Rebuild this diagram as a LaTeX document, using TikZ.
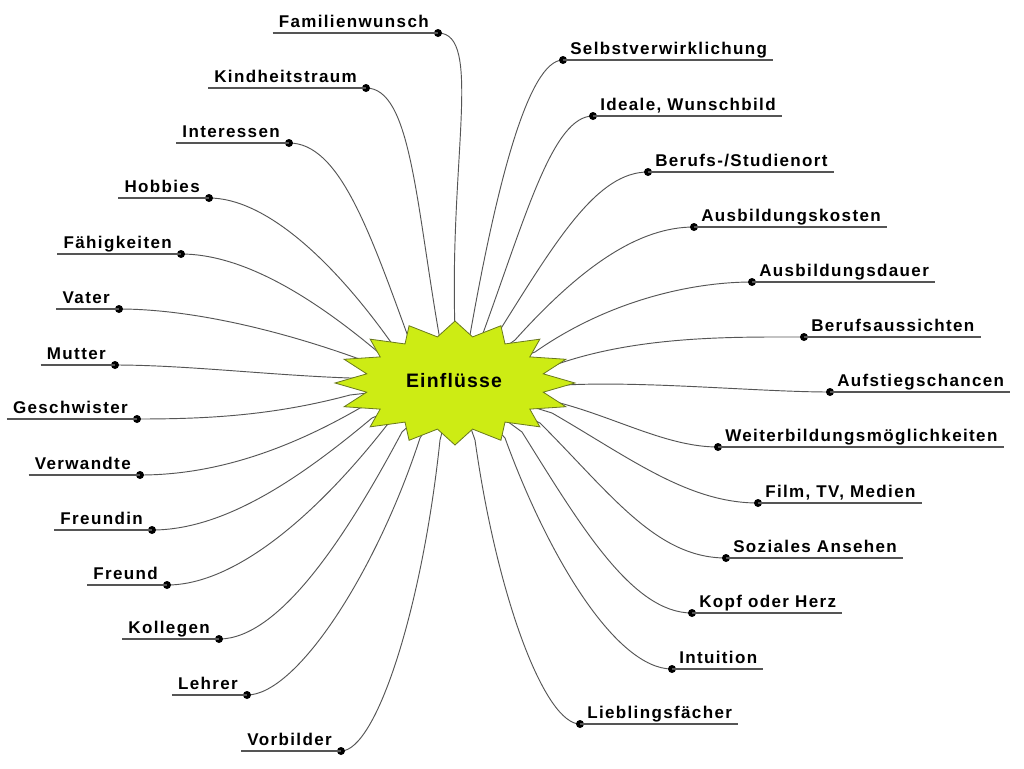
\documentclass[tikz,border=0pt]{standalone}
\usepackage{fontspec}
\setmainfont{Liberation Sans}
\newfontfamily\labfont[LetterSpace=8]{Liberation Sans}
\newfontfamily\ctrfont[LetterSpace=6]{Liberation Sans}
\usetikzlibrary{calc}
\definecolor{starfill}{RGB}{205,236,20}
\definecolor{staredge}{RGB}{105,120,30}
\definecolor{linegray}{RGB}{85,85,85}
\tikzset{
  conn/.style={draw=linegray, line width=0.7pt},
  uline/.style={draw=linegray, line width=0.9pt},
  dotst/.style={circle, fill=black, inner sep=0pt, minimum size=6pt},
  labst/.style={font=\labfont\bfseries\fontsize{12.75pt}{14pt}\selectfont, inner xsep=4.5pt, inner ysep=0pt, text=black},
  ctrst/.style={font=\ctrfont\bfseries\fontsize{14.6pt}{16pt}\selectfont, inner sep=0pt, text=black},
  starst/.style={fill=starfill, draw=staredge, line width=0.6pt, line join=miter}
}
% left item: name, text, dot x, dot y, end x, end y, in angle, out dist, in dist
\newcommand\Litem[9]{%
  \coordinate (p#1) at (#3,-#4);
  \coordinate (e#1) at (#5,-#6);
  \draw[conn] (p#1) .. controls +(#8,0) and +(#7:#9) .. (e#1) -- ($(e#1)!0.5!(C)$);
  \node[dotst] (d#1) at (p#1) {};
  \node[labst,anchor=base east] (l#1) at ($(p#1)+(-3,6)$) {#2};
  \draw[uline] (l#1.west |- p#1) -- (d#1.center);
}
\newcommand\Ritem[9]{%
  \coordinate (p#1) at (#3,-#4);
  \coordinate (e#1) at (#5,-#6);
  \draw[conn] (p#1) .. controls +(-#8,0) and +(#7:#9) .. (e#1) -- ($(e#1)!0.5!(C)$);
  \node[dotst] (d#1) at (p#1) {};
  \node[labst,anchor=base west] (l#1) at ($(p#1)+(1,6)$) {#2};
  \draw[uline] (d#1.center) -- (l#1.east |- p#1);
}
\begin{document}
\begin{tikzpicture}[x=0.75pt,y=0.75pt]
\useasboundingbox[fill=white] (0,0) rectangle (1024,-768);
\coordinate (C) at (455,-383);
% left side
\Litem{fam}{Familienwunsch}{438}{33}{455}{330}{92}{45}{170}
\Litem{kin}{Kindheitstraum}{366}{88}{440}{340}{100}{45}{140}
\Litem{int}{Interessen}{289}{143}{410}{342}{110}{50}{120}
\Litem{hob}{Hobbies}{209}{198}{395}{348}{125}{55}{110}
\Litem{fae}{Fähigkeiten}{181}{254}{378}{352}{140}{60}{90}
\Litem{vat}{Vater}{119}{309}{362}{360}{160}{70}{90}
\Litem{mut}{Mutter}{115}{365}{350}{378}{178}{70}{80}
\Litem{ges}{Geschwister}{137}{419}{350}{395}{195}{70}{80}
\Litem{ver}{Verwandte}{140}{475}{360}{408}{210}{70}{90}
\Litem{fin}{Freundin}{152}{530}{372}{418}{220}{70}{100}
\Litem{fre}{Freund}{167}{585}{387}{425}{232}{70}{110}
\Litem{kol}{Kollegen}{219}{639}{402}{432}{242}{60}{120}
\Litem{leh}{Lehrer}{247}{695}{420}{438}{252}{50}{140}
\Litem{vor}{Vorbilder}{341}{751}{440}{440}{264}{35}{170}
% right side
\Ritem{sel}{Selbstverwirklichung}{563}{60}{470}{335}{80}{35}{150}
\Ritem{ide}{Ideale, Wunschbild}{593}{116}{482}{336}{70}{40}{130}
\Ritem{ber}{Berufs-/Studienort}{648}{172}{500}{330}{58}{50}{110}
\Ritem{akos}{Ausbildungskosten}{694}{227}{515}{340}{48}{55}{100}
\Ritem{adau}{Ausbildungsdauer}{752}{282}{535}{352}{35}{60}{90}
\Ritem{bau}{Berufsaussichten}{804}{337}{552}{366}{20}{70}{90}
\Ritem{auf}{Aufstiegschancen}{830}{392}{565}{385}{3}{70}{80}
\Ritem{wei}{Weiterbildungsmöglichkeiten}{718}{447}{560}{403}{-15}{50}{60}
\Ritem{fil}{Film, TV, Medien}{758}{503}{552}{413}{-30}{70}{90}
\Ritem{soz}{Soziales Ansehen}{726}{558}{540}{423}{-45}{70}{100}
\Ritem{kop}{Kopf oder Herz}{692}{613}{522}{432}{-58}{60}{110}
\Ritem{intu}{Intuition}{672}{669}{505}{438}{-70}{55}{130}
\Ritem{lie}{Lieblingsfächer}{580}{724}{475}{440}{-82}{35}{160}
% star
\begin{scope}[shift={(C)}]
\draw[starst] (90:120 and 62)
  \foreach \k in {0,...,15}{ -- ({101.25+22.5*\k}:90 and 47) -- ({112.5+22.5*\k}:120 and 62) } -- cycle;
\end{scope}
\node[ctrst,anchor=base] (ctr) at (454,-387) {Einflüsse};
\end{tikzpicture}
\end{document}
